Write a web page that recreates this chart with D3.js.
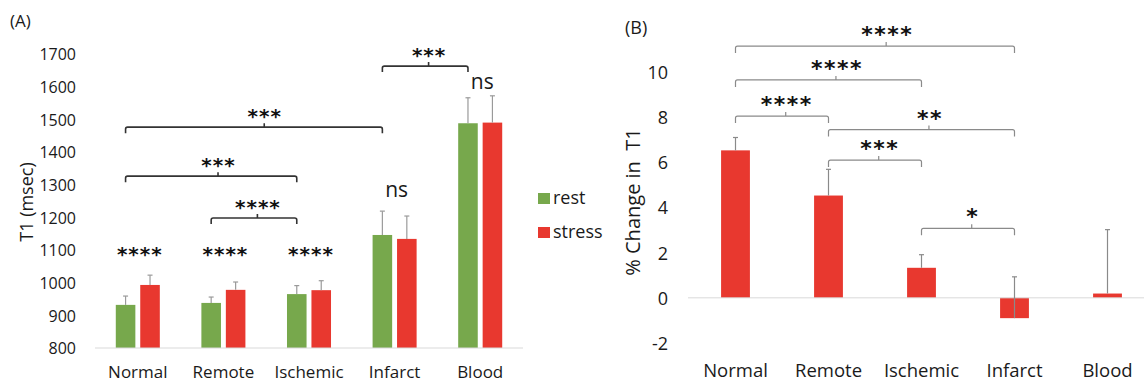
<!DOCTYPE html>
<html>
<head>
<meta charset="utf-8">
<script src="https://cdn.jsdelivr.net/npm/d3@7"></script>
<style>
  html, body { margin: 0; padding: 0; background: #fff; }
  svg { display: block; font-family: 'Open Sans', sans-serif; }
  .stars { font-family: 'DejaVu Sans', sans-serif; font-weight: bold; fill: #111; }
</style>
</head>
<body>
<div id="chart"></div>
<script>
const categories = ['Normal', 'Remote', 'Ischemic', 'Infarct', 'Blood']
const seriesNames = ['rest', 'stress']

// panel A, T1 in msec
const restT1 = [932, 938, 965, 1146, 1488]
const restErr = [27, 18, 26, 73, 78]
const stressT1 = [993, 978, 977, 1134, 1490]
const stressErr = [30, 24, 29, 70, 82]
const groupMarks = ['****', '****', '****', 'ns', 'ns']
const groupMarkLevel = [1100, 1100, 1100, 1282, 1612]
const yTicksA = [800, 900, 1000, 1100, 1200, 1300, 1400, 1500, 1600, 1700]

// brackets: [from, to, level, label]
const bracketsA = [
  ['Normal', 'Infarct', 1476, '***'],
  ['Normal', 'Ischemic', 1326, '***'],
  ['Remote', 'Ischemic', 1198, '****'],
  ['Infarct', 'Blood', 1663, '***']
]

// panel B, % change rest -> stress
const pctChange = [6.53, 4.53, 1.33, -0.9, 0.19]
const pctErr = [0.57, 1.16, 0.58, 1.83, 2.83]
const yTicksB = [-2, 0, 2, 4, 6, 8, 10]
const bracketsB = [
  ['Normal', 'Infarct', 11.15, '****'],
  ['Normal', 'Ischemic', 9.65, '****'],
  ['Normal', 'Remote', 8.05, '****'],
  ['Remote', 'Infarct', 7.45, '**'],
  ['Remote', 'Ischemic', 6.1, '***'],
  ['Ischemic', 'Infarct', 3.08, '*']
]

const colors = { rest: '#77a84c', stress: '#e8382f' }
const errColor = '#9a9a9a'
const textColor = '#1a1a1a'

const W = 1144, H = 383
const svg = d3.select('#chart').append('svg')
  .attr('width', W).attr('height', H)

function bracketPath(x1, x2, y, drop) {
  const r = 2
  const tx = x1 + (x2 - x1) * 0.54
  return `M${x1},${y + drop} L${x1},${y + r} Q${x1},${y} ${x1 + r},${y} ` +
    `L${x2 - r},${y} Q${x2},${y} ${x2},${y + r} L${x2},${y + drop} ` +
    `M${tx},${y} L${tx},${y - 4}`
}

function errorBar(g, x, y0, y1, color) {
  g.append('line')
    .attr('x1', x).attr('x2', x).attr('y1', y0).attr('y2', y1)
    .attr('stroke', color).attr('stroke-width', 1.2)
  g.append('line')
    .attr('x1', x - 2.5).attr('x2', x + 2.5).attr('y1', y1).attr('y2', y1)
    .attr('stroke', color).attr('stroke-width', 1.2)
}

function styleTicks(sel, size, dy) {
  sel.select('.domain').remove()
  sel.attr('font-family', null).attr('font-size', null)
  sel.selectAll('text')
    .attr('font-size', size)
    .attr('fill', textColor)
    .attr('dy', dy)
}

// ---------- panel A ----------
const gA = svg.append('g')

const xA = d3.scaleBand().domain(categories).range([95, 523])
const subA = d3.scaleBand().domain(seriesNames)
  .range([0, xA.bandwidth()])
  .paddingInner(0.2)
  .paddingOuter(0.85)
const yA = d3.scaleLinear().domain([800, 1700]).range([348, 54])

const valuesA = {
  rest: categories.map((c, i) => ({ cat: c, v: restT1[i], e: restErr[i] })),
  stress: categories.map((c, i) => ({ cat: c, v: stressT1[i], e: stressErr[i] }))
}

gA.append('g')
  .attr('transform', 'translate(76,0)')
  .call(d3.axisLeft(yA).tickValues(yTicksA).tickFormat(d => String(d))
    .tickSize(0).tickPadding(0))
  .call(g => styleTicks(g, 16, '0.36em'))

seriesNames.forEach(s => {
  gA.append('g').selectAll('rect')
    .data(valuesA[s])
    .join('rect')
    .attr('x', d => xA(d.cat) + subA(s))
    .attr('y', d => yA(d.v))
    .attr('width', subA.bandwidth())
    .attr('height', d => yA(800) - yA(d.v))
    .attr('fill', colors[s])
})

gA.append('line')
  .attr('x1', 95).attr('x2', 523)
  .attr('y1', yA(800)).attr('y2', yA(800))
  .attr('stroke', '#d9d9d9').attr('stroke-width', 1)

seriesNames.forEach(s => {
  valuesA[s].forEach(d => {
    const cx = xA(d.cat) + subA(s) + subA.bandwidth() / 2
    errorBar(gA, cx, yA(d.v), yA(d.v + d.e), errColor)
  })
})

gA.append('g')
  .attr('transform', 'translate(0,378)')
  .call(d3.axisBottom(xA).tickSize(0).tickPadding(0))
  .call(g => styleTicks(g, 17, 0))
  .selectAll('text').attr('y', 0)

categories.forEach((c, i) => {
  const cx = xA(c) + xA.bandwidth() / 2
  const isStars = groupMarks[i].startsWith('*')
  gA.append('text')
    .attr('class', isStars ? 'stars' : null)
    .attr('x', cx + 2)
    .attr('y', yA(groupMarkLevel[i]) + (isStars ? 11 : 6))
    .attr('text-anchor', 'middle')
    .attr('font-size', isStars ? 20 : 21)
    .attr('letter-spacing', isStars ? 1 : 0)
    .attr('fill', textColor)
    .text(groupMarks[i])
})

const restCenter = c => xA(c) + subA('rest') + subA.bandwidth() / 2
bracketsA.forEach(([a, b, lvl, label]) => {
  const x1 = restCenter(a), x2 = restCenter(b), y = yA(lvl)
  gA.append('path')
    .attr('d', bracketPath(x1, x2, y, 6))
    .attr('fill', 'none')
    .attr('stroke', '#333')
    .attr('stroke-width', 1.6)
  gA.append('text')
    .attr('class', 'stars')
    .attr('x', x1 + (x2 - x1) * 0.54 + 0.5)
    .attr('y', y - 15 + 11)
    .attr('text-anchor', 'middle')
    .attr('font-size', 20)
    .attr('letter-spacing', 1)
    .text(label)
})

gA.append('text')
  .attr('transform', 'translate(33,202) rotate(-90)')
  .attr('text-anchor', 'middle')
  .attr('font-size', 18)
  .attr('fill', textColor)
  .text('T1 (msec)')

gA.append('text')
  .attr('x', 10).attr('y', 27)
  .attr('font-size', 17)
  .attr('fill', textColor)
  .text('(A)')

// legend
const legend = gA.append('g').attr('transform', 'translate(538,193)')
seriesNames.forEach((s, i) => {
  legend.append('rect')
    .attr('x', 0).attr('y', i * 34)
    .attr('width', 12).attr('height', 11)
    .attr('fill', colors[s])
  legend.append('text')
    .attr('x', 15).attr('y', i * 34 + 11)
    .attr('font-size', 18)
    .attr('fill', textColor)
    .text(s)
})

// ---------- panel B ----------
const gB = svg.append('g')

const xB = d3.scaleBand().domain(categories).range([689, 1154])
  .paddingInner(0.69).paddingOuter(0.345)
const yB = d3.scaleLinear().domain([-2, 10]).range([343, 72])

const valuesB = categories.map((c, i) => ({ cat: c, v: pctChange[i], e: pctErr[i] }))

gB.append('g')
  .attr('transform', 'translate(668,0)')
  .call(d3.axisLeft(yB).tickValues(yTicksB).tickFormat(d => String(d))
    .tickSize(0).tickPadding(0))
  .call(g => styleTicks(g, 18, '0.36em'))

gB.append('g').selectAll('rect')
  .data(valuesB)
  .join('rect')
  .attr('x', d => xB(d.cat))
  .attr('y', d => yB(Math.max(0, d.v)))
  .attr('width', xB.bandwidth())
  .attr('height', d => Math.abs(yB(d.v) - yB(0)))
  .attr('fill', colors.stress)

gB.append('line')
  .attr('x1', 688).attr('x2', W)
  .attr('y1', yB(0)).attr('y2', yB(0))
  .attr('stroke', '#d9d9d9').attr('stroke-width', 1)

valuesB.forEach(d => {
  const cx = xB(d.cat) + xB.bandwidth() / 2
  errorBar(gB, cx, yB(d.v), yB(d.v + d.e), '#8a8a8a')
})

gB.append('g')
  .attr('transform', 'translate(0,377)')
  .call(d3.axisBottom(xB).tickSize(0).tickPadding(0))
  .call(g => styleTicks(g, 18.5, 0))
  .selectAll('text').attr('y', 0)

const barCenter = c => xB(c) + xB.bandwidth() / 2
bracketsB.forEach(([a, b, lvl, label]) => {
  const x1 = barCenter(a), x2 = barCenter(b), y = yB(lvl)
  gB.append('path')
    .attr('d', bracketPath(x1, x2, y, 7))
    .attr('fill', 'none')
    .attr('stroke', '#8a8a8a')
    .attr('stroke-width', 1.2)
  gB.append('text')
    .attr('class', 'stars')
    .attr('x', x1 + (x2 - x1) * 0.54 + 1)
    .attr('y', y - 16 + 12)
    .attr('text-anchor', 'middle')
    .attr('font-size', 22)
    .attr('letter-spacing', 1.5)
    .text(label)
})

gB.append('text')
  .attr('transform', 'translate(640,202) rotate(-90)')
  .attr('text-anchor', 'middle')
  .attr('font-size', 20)
  .attr('fill', textColor)
  .style('white-space', 'pre')
  .text('% Change in  T1')

gB.append('text')
  .attr('x', 625).attr('y', 34)
  .attr('font-size', 18)
  .attr('fill', textColor)
  .text('(B)')
</script>
</body>
</html>
